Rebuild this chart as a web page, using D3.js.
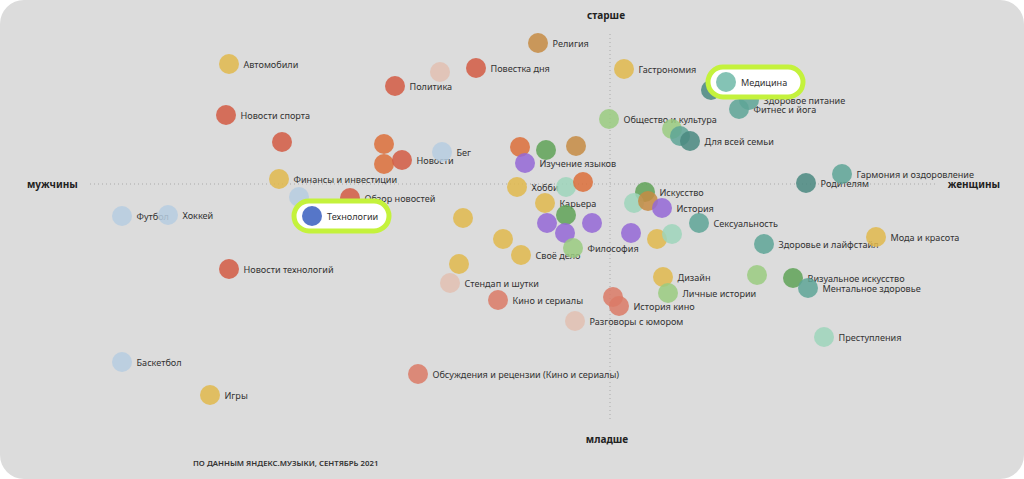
<!DOCTYPE html>
<html>
<head>
<meta charset="utf-8">
<script src="https://cdn.jsdelivr.net/npm/d3@7"></script>
<style>
  html, body { margin: 0; padding: 0; background: #fff; }
  svg { display: block; }
</style>
</head>
<body>
<div id="chart"></div>
<script>
// topics: gender axis (negative = men, positive = women), age axis (positive = older)
const names = [
  'Автомобили', 'Новости спорта', '', 'Финансы и инвестиции', '', 'Футбол', 'Хоккей',
  'Новости технологий', 'Баскетбол', 'Игры', 'Политика', '', 'Повестка дня', 'Религия',
  '', '', 'Новости', 'Бег', 'Обзор новостей', '', '', '', '', 'Изучение языков', 'Хобби',
  '', '', 'Карьера', '', '', '', '', 'Философия', '', 'Своё дело', '', 'Стендап и шутки',
  'Кино и сериалы', 'Разговоры с юмором', 'Обсуждения и рецензии (Кино и сериалы)', '', 'История кино',
  'Гастрономия', 'Общество и культура', '', '', 'Для всей семьи', '', 'Здоровое питание',
  'Фитнес и йога', 'Гармония и оздоровление', 'Родителям', 'Искусство', '', '', 'История',
  'Сексуальность', '', '', '', 'Здоровье и лайфстайл', 'Мода и красота', 'Дизайн',
  'Личные истории', '', 'Визуальное искусство', 'Ментальное здоровье', 'Преступления'
]
const genderVals = [
  -76.2, -76.8, -65.6, -66.2, -62.2, -97.6, -88.4,
  -76.2, -97.6, -80, -43, -34, -26.8, -14.4,
  -45.2, -45.2, -41.6, -33.6, -52, -29.4, -18, -12.8, -6.8, -17, -18.6,
  -8.8, -5.4, -13, -8.8, -12.6, -9, -3.6, -7.4, -21.4, -17.8, -30.2, -32,
  -22.4, -7, -38.4, 0.6, 1.8,
  2.8, -0.2, 12.4, 14, 16, 20.2, 27.8,
  25.8, 46.4, 39.2, 7, 4.8, 7.6, 10.4,
  17.8, 4.2, 9.4, 12.4, 30.8, 53.2, 10.6,
  11.6, 29.4, 36.6, 39.6, 42.8
]
const ageVals = [
  24, 13.8, 8.4, 1, -2.6, -6.4, -6.2,
  -17, -35.6, -42.2, 19.6, 22.4, 23.2, 28.2,
  8, 4, 4.8, 6.4, -2.8, -6.8, 7.4, 6.8, 7.6, 4.2, -0.6,
  -0.6, 0.4, -3.8, -6.2, -7.8, -9.8, -7.8, -12.8, -11, -14.2, -16, -19.8,
  -23.2, -27.4, -38, -22.6, -24.4,
  23, 13, 11, 9.6, 8.6, 18.8, 16.8,
  15, 2, 0.2, -1.6, -3.8, -3.4, -4.8,
  -7.8, -9.8, -11, -10, -12, -10.6, -18.6,
  -21.8, -18.2, -18.8, -20.8, -30.6
]
const groups = [
  'yellow', 'red', 'red', 'yellow', 'lightblue', 'lightblue', 'lightblue',
  'red', 'lightblue', 'yellow', 'red', 'pink', 'red', 'brown',
  'orange', 'orange', 'red', 'lightblue', 'red', 'yellow', 'orange', 'green', 'brown', 'purple', 'yellow',
  'mint', 'orange', 'yellow', 'green', 'purple', 'purple', 'purple', 'lightgreen', 'yellow', 'yellow', 'yellow', 'pink',
  'salmon', 'pink', 'salmon', 'salmon', 'salmon',
  'yellow', 'lightgreen', 'lightgreen', 'teal', 'darkteal', 'darkteal', 'teal',
  'teal', 'teal', 'darkteal', 'green', 'mint', 'brown', 'purple',
  'teal', 'purple', 'yellow', 'mint', 'teal', 'yellow', 'yellow',
  'lightgreen', 'lightgreen', 'green', 'teal', 'mint'
]
// highlighted topics, drawn last inside a pill
const highlightNames = ['Технологии', 'Медицина']
const highlightGender = [-59.6, 23.2]
const highlightAge = [-6.4, 20.4]
const highlightGroups = ['blue', 'paleteal']

const axisLabels = { top: 'старше', bottom: 'младше', left: 'мужчины', right: 'женщины' }
const sourceNote = 'ПО ДАННЫМ ЯНДЕКС.МУЗЫКИ, СЕНТЯБРЬ 2021'

const palette = {
  yellow: '#e0b94c', red: '#d25a43', lightblue: '#b6cce0', blue: '#4467c2',
  pink: '#e2bfb2', brown: '#c68b43', orange: '#dc6f3a', green: '#5fa257',
  lightgreen: '#9acb80', purple: '#9467d6', mint: '#9dd5bb', teal: '#5ea596',
  darkteal: '#4a8880', salmon: '#da7a66', paleteal: '#77bdad'
}

const width = 1024, height = 479
const r = 10
const labelSize = 9.1

const svg = d3.select('#chart').append('svg')
  .attr('width', width)
  .attr('height', height)

svg.append('rect')
  .attr('x', 0).attr('y', 0)
  .attr('width', width).attr('height', height)
  .attr('rx', 24)
  .attr('fill', '#dcdcdc')

const x = d3.scaleLinear().domain([-104, 65]).range([90, 935])
const y = d3.scaleLinear().domain([30, -47.2]).range([34, 420])

// dotted cross
svg.append('line')
  .attr('x1', x(-104)).attr('x2', x(65))
  .attr('y1', y(0)).attr('y2', y(0))
  .attr('stroke', '#aaa').attr('stroke-width', 1).attr('stroke-dasharray', '1,3')
svg.append('line')
  .attr('x1', x(0)).attr('x2', x(0))
  .attr('y1', y(30)).attr('y2', y(-47.2))
  .attr('stroke', '#aaa').attr('stroke-width', 1).attr('stroke-dasharray', '1,3')

const addAxisLabel = (tx, ty, text, anchor) => {
  svg.append('text')
    .attr('x', tx).attr('y', ty)
    .attr('text-anchor', anchor)
    .attr('dominant-baseline', 'central')
    .attr('font-family', '"Noto Sans", sans-serif')
    .attr('font-size', 10)
    .attr('font-weight', 700)
    .attr('fill', '#222')
    .text(text)
}
addAxisLabel(x(0) - 4, 15, axisLabels.top, 'middle')
addAxisLabel(x(0) - 3, 439, axisLabels.bottom, 'middle')
addAxisLabel(27, y(0), axisLabels.left, 'start')
addAxisLabel(1000, y(0), axisLabels.right, 'end')

svg.append('text')
  .attr('x', 193).attr('y', 463)
  .attr('dominant-baseline', 'central')
  .attr('font-family', '"Noto Sans", sans-serif')
  .attr('font-size', 7.8)
  .attr('font-weight', 600)
  .attr('fill', '#333')
  .text(sourceNote)

const points = names.map((n, i) => ({ name: n, g: genderVals[i], a: ageVals[i], group: groups[i] }))

// labels sit under the circles
svg.append('g')
  .selectAll('text')
  .data(points.filter(d => d.name))
  .join('text')
  .attr('x', d => x(d.g) + 14.5)
  .attr('y', d => y(d.a) + 0.5)
  .attr('dominant-baseline', 'central')
  .attr('font-family', '"Noto Sans", sans-serif')
  .attr('font-size', labelSize)
  .attr('fill', '#333')
  .text(d => d.name)

svg.append('g')
  .selectAll('circle')
  .data(points)
  .join('circle')
  .attr('cx', d => x(d.g))
  .attr('cy', d => y(d.a))
  .attr('r', r)
  .attr('fill', d => palette[d.group])
  .attr('fill-opacity', 0.85)

// highlighted pills
const hl = highlightNames.map((n, i) => ({ name: n, g: highlightGender[i], a: highlightAge[i], group: highlightGroups[i] }))
const pill = svg.append('g')
  .selectAll('g')
  .data(hl)
  .join('g')

pill.append('rect')
  .attr('x', d => x(d.g) - 18)
  .attr('y', d => y(d.a) - 15)
  .attr('width', 95)
  .attr('height', 30)
  .attr('rx', 15)
  .attr('fill', '#fff')
  .attr('stroke', '#c4f23c')
  .attr('stroke-width', 5)

pill.append('circle')
  .attr('cx', d => x(d.g))
  .attr('cy', d => y(d.a))
  .attr('r', r)
  .attr('fill', d => palette[d.group])
  .attr('fill-opacity', 0.9)

pill.append('text')
  .attr('x', d => x(d.g) + 15)
  .attr('y', d => y(d.a) + 0.5)
  .attr('dominant-baseline', 'central')
  .attr('font-family', '"Noto Sans", sans-serif')
  .attr('font-size', labelSize)
  .attr('fill', '#333')
  .text(d => d.name)
</script>
</body>
</html>
